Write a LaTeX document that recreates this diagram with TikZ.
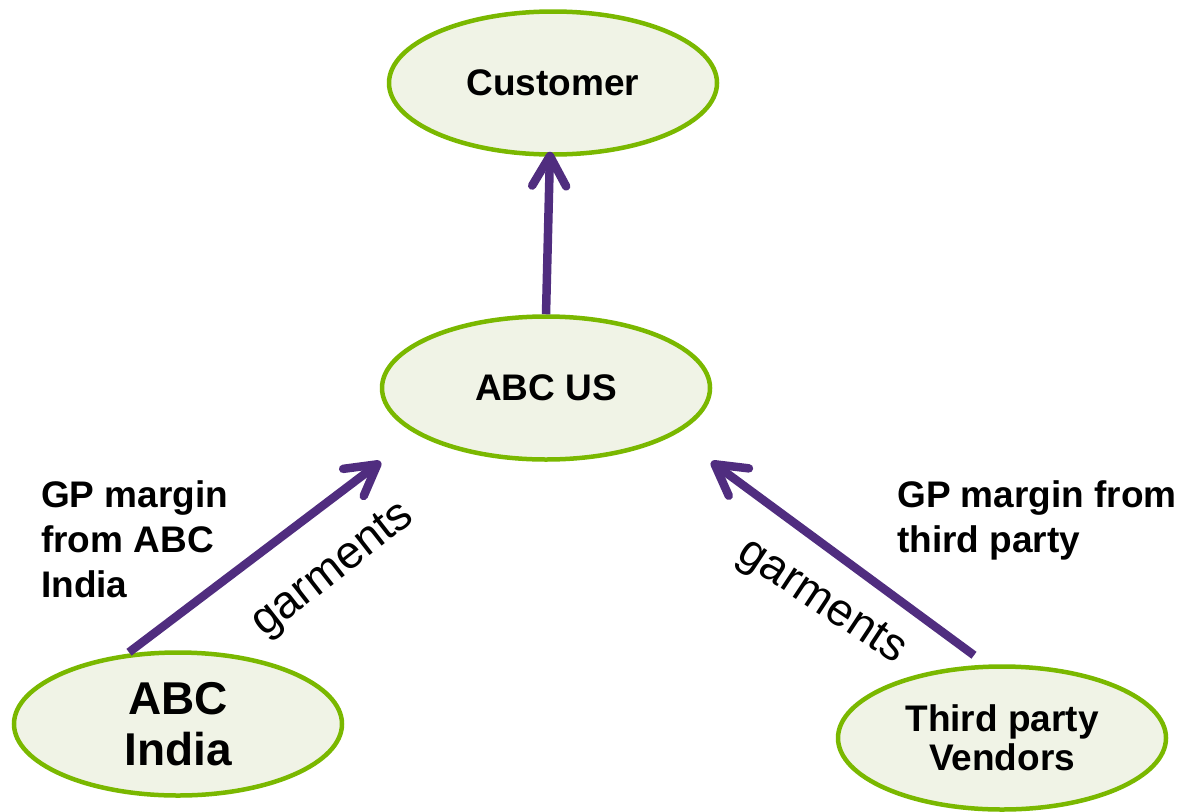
\documentclass[tikz,border=0pt]{standalone}
\usepackage{fontspec}
\setmainfont{Liberation Sans}
\usetikzlibrary{arrows.meta,shapes.geometric}
\definecolor{ovalgreen}{RGB}{122,184,0}
\definecolor{ovalfill}{RGB}{240,243,230}
\definecolor{arrowpurple}{RGB}{80,45,127}
\begin{document}
\begin{tikzpicture}[x=1pt,y=-1pt,
  oval/.style={ellipse,draw=ovalgreen,fill=ovalfill,line width=4.5pt,inner sep=0pt,
    minimum width=328pt,minimum height=143pt,align=center,
    font=\bfseries\fontsize{37pt}{40pt}\selectfont},
  flow/.style={draw=arrowpurple,line width=8.5pt,
    -{Straight Barb[length=30pt,width=34pt,round]}},
  note/.style={inner sep=0pt,align=left,anchor=north west,
    font=\bfseries\fontsize{37pt}{45pt}\selectfont},
  goods/.style={inner sep=0pt,font=\fontsize{46pt}{46pt}\selectfont}]
\useasboundingbox (0,0) rectangle (1182,811);

\node[oval] (customer) at (553,83) {Customer};
\node[oval] (abcus) at (546,388) {ABC US};
\node[oval,font=\bfseries\fontsize{46pt}{51pt}\selectfont] (abcindia) at (178,724) {ABC\\India};
\node[oval,font=\bfseries\fontsize{37pt}{39pt}\selectfont] (vendors) at (1002,738) {Third party\\Vendors};

\draw[flow] (abcus.north) -- ([xshift=-3pt,yshift=5pt]customer.south);
\draw[flow] ([xshift=-49pt,yshift=-2pt]abcindia.north) -- ([xshift=1pt]abcus.west |- abcus.south);
\draw[flow] ([xshift=-28pt,yshift=9pt]vendors.north) -- ([xshift=-1pt]abcus.east |- abcus.south);

\node[note] (leftnote) at (41,480) {GP margin\\from ABC\\India};
\node[note] (rightnote) at (897,480) {GP margin from\\third party};

\node[goods,rotate=38] (leftgoods) at (334,571) {garments};
\node[goods,rotate=-33.5] (rightgoods) at (821,603) {garments};
\end{tikzpicture}
\end{document}
